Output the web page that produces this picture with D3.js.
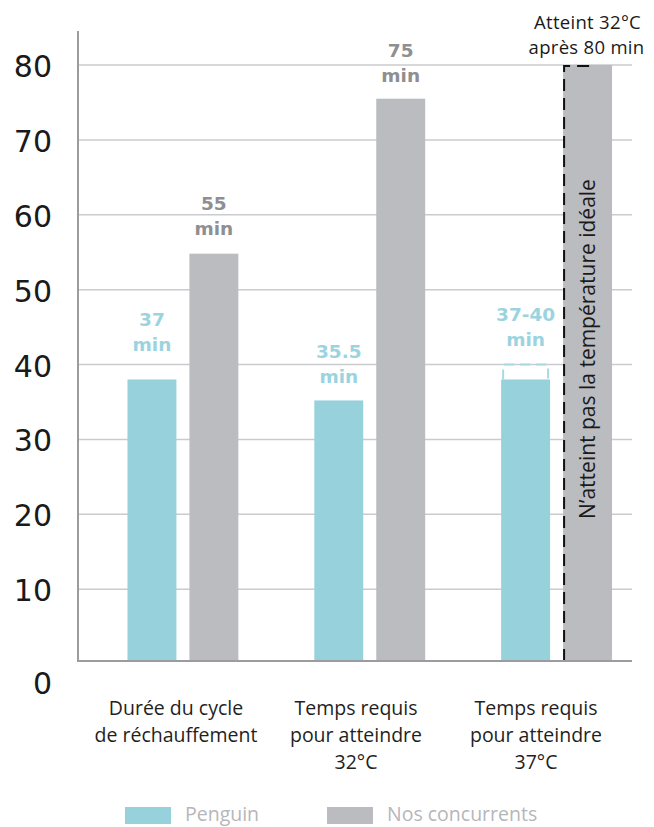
<!DOCTYPE html>
<html>
<head>
<meta charset="utf-8">
<script src="https://cdn.jsdelivr.net/npm/d3@7"></script>
<style>
  html, body { margin: 0; padding: 0; background: #fff; }
  svg { display: block; }
</style>
</head>
<body>
<div id="chart"></div>
<script>
// ---------- DATA ----------
const categories = ["cycle", "t32", "t37"];
const categoryLabels = [
  ["Durée du cycle", "de réchauffement"],
  ["Temps requis", "pour atteindre", "32°C"],
  ["Temps requis", "pour atteindre", "37°C"]
];
const series = ["Penguin", "Nos concurrents"];
const penguinValues = [38, 35.2, 38];
const competitorValues = [54.8, 75.5, 80];
const penguinLabels = ["37", "35.5", "37-40"];
const competitorLabels = ["55", "75", null];
const penguinRangeHigh = [null, null, 40];   // 37-40 range bracket
const yTicks = [0, 10, 20, 30, 40, 50, 60, 70, 80];
const annotationTop = ["Atteint 32°C", "après 80 min"];
const annotationBar = "N’atteint pas la température idéale";

// ---------- STYLE ----------
const W = 654, H = 827;
const colors = { "Penguin": "#97D1DC", "Nos concurrents": "#BBBCC0" };
const labelColors = { "Penguin": "#9BD4DF", "Nos concurrents": "#8E8F92" };
const labelLift = { "0-0": 11, "0-1": 2, "2-0": 16 };
const font = "'Open Sans', 'Noto Sans', sans-serif";
const numFont = "'DejaVu Sans', sans-serif";

const svg = d3.select("#chart").append("svg").attr("width", W).attr("height", H);

const y = d3.scaleLinear().domain([0, 80]).range([664, 65]);
const baseY = y(0) - 3;
const plotLeft = 78, plotRight = 632;

const x0 = d3.scaleBand().domain(categories).range([89.5, 650]).padding(0);
const x1 = d3.scaleBand().domain(series).range([0, x0.bandwidth()])
  .paddingInner(0.21).paddingOuter(0.613);
const xLab = d3.scaleBand().domain(categories).range([86, 626]).padding(0);

// gridlines
svg.append("g").selectAll("line").data(yTicks.filter(d => d > 0)).join("line")
  .attr("x1", plotLeft).attr("x2", plotRight)
  .attr("y1", d => y(d)).attr("y2", d => y(d))
  .attr("stroke", "#CBCBCF").attr("stroke-width", 1.5);

// y tick labels
svg.append("g").selectAll("text").data(yTicks).join("text")
  .attr("x", 52)
  .attr("y", d => d === 0 ? y(d) + 30 : y(d) + 12)
  .attr("text-anchor", "end")
  .attr("font-family", numFont).attr("font-size", 30)
  .attr("fill", "#1a1a1a")
  .text(d => d);

// data rows
const rows = categories.map((c, i) => ({
  cat: c, i,
  bars: [
    { s: "Penguin", v: penguinValues[i], label: penguinLabels[i], hi: penguinRangeHigh[i], j: 0 },
    { s: "Nos concurrents", v: competitorValues[i], label: competitorLabels[i], hi: null, j: 1 }
  ]
}));

const g = svg.append("g").selectAll("g").data(rows).join("g")
  .attr("transform", d => `translate(${x0(d.cat)},0)`);

g.selectAll("rect").data(d => d.bars).join("rect")
  .attr("x", d => x1(d.s))
  .attr("y", d => y(d.v))
  .attr("width", x1.bandwidth())
  .attr("height", d => baseY - y(d.v))
  .attr("fill", d => colors[d.s]);

// value labels
rows.forEach(r => {
  r.bars.forEach(b => {
    if (!b.label) return;
    const cx = x0(r.cat) + x1(b.s) + x1.bandwidth() / 2;
    const lift = labelLift[r.i + "-" + b.j] || 0;
    const top = y(b.v) - lift;
    const t = svg.append("text")
      .attr("text-anchor", "middle")
      .attr("font-family", numFont).attr("font-weight", "bold")
      .attr("font-size", 18.5)
      .attr("fill", labelColors[b.s]);
    t.append("tspan").attr("x", cx).attr("y", top - 42).text(b.label);
    t.append("tspan").attr("x", cx).attr("y", top - 17).text("min");
  });
});

// range bracket (37-40)
rows.forEach(r => {
  const b = r.bars[0];
  if (b.hi == null) return;
  const xl = x0(r.cat) + x1(b.s) + 2, xr = xl + x1.bandwidth() - 4;
  svg.append("path")
    .attr("d", `M${xl},${y(b.v)} L${xl},${y(b.hi)} L${xr},${y(b.hi)} L${xr},${y(b.v)}`)
    .attr("fill", "none").attr("stroke", "#A6DAE4").attr("stroke-width", 2)
    .attr("stroke-dasharray", "10,6");
});

// dashed outline on the 3rd competitor bar + annotations
{
  const cat = categories[2];
  const bx = x0(cat) + x1("Nos concurrents");
  const top = y(competitorValues[2]);
  svg.append("path")
    .attr("d", `M${bx + 1},${baseY} L${bx + 1},${top + 1} L${bx + 32},${top + 1}`)
    .attr("fill", "none").attr("stroke", "#111").attr("stroke-width", 2)
    .attr("stroke-dasharray", "12,7");
  const cx = bx + x1.bandwidth() / 2 - 1;
  svg.append("text")
    .attr("transform", `translate(${cx},${349}) rotate(-90)`)
    .attr("text-anchor", "middle").attr("dominant-baseline", "central")
    .attr("font-family", font).attr("font-size", 21)
    .attr("fill", "#1a1a1a")
    .text(annotationBar);
  const ax = bx + x1.bandwidth() / 2;
  svg.append("text").attr("x", ax).attr("y", 29)
    .attr("text-anchor", "middle").attr("font-family", font).attr("font-size", 18.5)
    .attr("letter-spacing", 0.3)
    .attr("fill", "#1a1a1a").text(annotationTop[0]);
  svg.append("text").attr("x", ax - 1).attr("y", 54)
    .attr("text-anchor", "middle").attr("font-family", font).attr("font-size", 18.5)
    .attr("letter-spacing", 0.3)
    .attr("fill", "#1a1a1a").text(annotationTop[1]);
}

// axes lines
svg.append("line").attr("x1", plotLeft).attr("x2", plotLeft)
  .attr("y1", 31).attr("y2", baseY + 1)
  .attr("stroke", "#9C9CA0").attr("stroke-width", 2);
svg.append("line").attr("x1", plotLeft - 1).attr("x2", plotRight)
  .attr("y1", baseY).attr("y2", baseY)
  .attr("stroke", "#9C9CA0").attr("stroke-width", 2);

// category labels
svg.append("g").selectAll("text").data(categories).join("text")
  .attr("text-anchor", "middle")
  .attr("font-family", font).attr("font-size", 19.5)
  .attr("fill", "#1f1f1f")
  .each(function (c, i) {
    const cx = xLab(c) + xLab.bandwidth() / 2;
    d3.select(this).selectAll("tspan").data(categoryLabels[i]).join("tspan")
      .attr("x", cx).attr("y", (d, k) => 715 + k * 27).text(d => d);
  });

// legend
const legendX = [125, 327];
const lg = svg.append("g").selectAll("g").data(series).join("g")
  .attr("transform", (d, i) => `translate(${legendX[i]},807)`);
lg.append("rect").attr("width", 46).attr("height", 17).attr("fill", d => colors[d]);
lg.append("text").attr("x", 60).attr("y", 14)
  .attr("font-family", font).attr("font-size", 19.5)
  .attr("fill", "#B6B6BA").text(d => d);
</script>
</body>
</html>
